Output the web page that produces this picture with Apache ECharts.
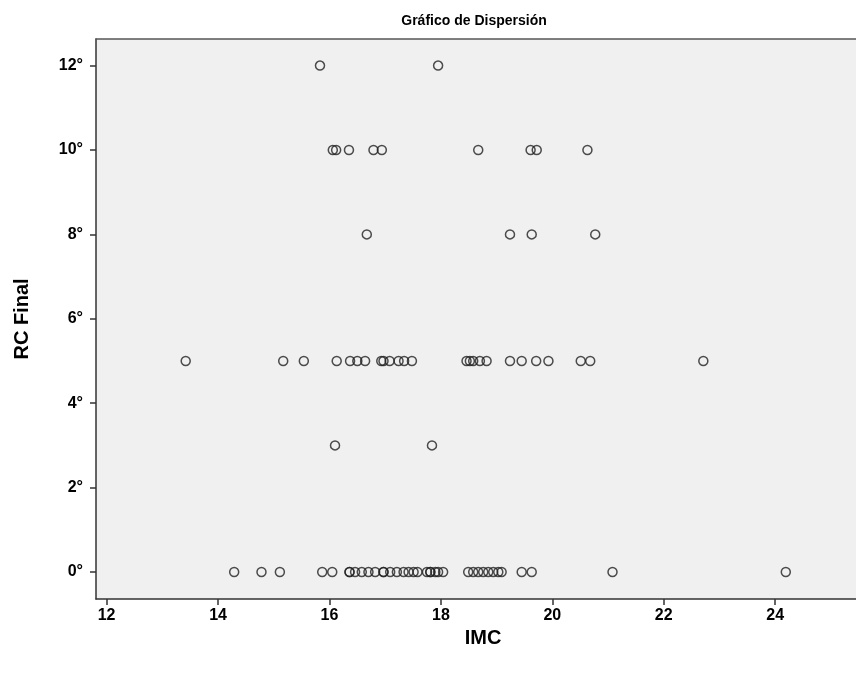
<!DOCTYPE html>
<html>
<head>
<meta charset="utf-8">
<script src="https://cdn.jsdelivr.net/npm/echarts@6/dist/echarts.min.js"></script>
<style>
html, body { margin: 0; padding: 0; background: #fff; }
#main { width: 856px; height: 679px; }
</style>
</head>
<body>
<div id="main"></div>
<script>
// IMC, por fila de RC Final
var imc0 = [14.29, 14.78, 15.11, 15.87, 16.05, 16.36, 16.36, 16.46, 16.58, 16.70, 16.82, 16.97, 16.97,
    17.09, 17.21, 17.33, 17.42, 17.51, 17.58, 17.75, 17.81, 17.81, 17.90, 17.95, 18.04,
    18.49, 18.58, 18.67, 18.76, 18.85, 18.94, 19.03, 19.09, 19.45, 19.63, 21.08, 24.19];
var imc3 = [16.10, 17.84];
var imc5 = [13.42, 15.17, 15.54, 16.13, 16.37, 16.50, 16.64, 16.93, 16.97, 17.08, 17.24, 17.34, 17.48,
    18.46, 18.52, 18.58, 18.70, 18.82, 19.24, 19.45, 19.71, 19.93, 20.51, 20.68, 22.71];
var imc8 = [16.67, 19.24, 19.63, 20.77];
var imc10 = [16.06, 16.12, 16.35, 16.79, 16.94, 18.67, 19.61, 19.72, 20.63];
var imc12 = [15.83, 17.95];

var rcLevels = [0, 3, 5, 8, 10, 12];
var imcRows = [imc0, imc3, imc5, imc8, imc10, imc12];

var xTicks = [12, 14, 16, 18, 20, 22, 24];
var yTicks = [0, 2, 4, 6, 8, 10, 12];

var puntos = [];
for (let i = 0; i < rcLevels.length; i++) {
    for (let j = 0; j < imcRows[i].length; j++) {
        puntos.push([imcRows[i][j], rcLevels[i]]);
    }
}

var myChart = echarts.init(document.getElementById('main'));

var fuente = '"Liberation Sans", Arial, sans-serif';
var lineaEje = { color: '#333', width: 1.5 };

var option = {
    backgroundColor: '#ffffff',
    animation: false,
    title: {
        text: 'Gráfico de Dispersión',
        left: 469,
        top: 9,
        textAlign: 'center',
        textStyle: {
            fontFamily: fuente,
            fontSize: 14,
            fontWeight: 'bold',
            color: '#000'
        }
    },
    grid: {
        left: 96,
        top: 39,
        right: 0,
        bottom: 80,
        show: true,
        backgroundColor: '#f0f0f0',
        borderWidth: 0
    },
    xAxis: [{
        type: 'value',
        min: 11.81,
        max: 25.45,
        name: 'IMC',
        nameLocation: 'middle',
        nameGap: 28,
        nameTextStyle: {
            fontFamily: fuente,
            fontSize: 20,
            fontWeight: 'bold',
            color: '#000',
            padding: [0, 0, 0, 14]
        },
        splitLine: { show: false },
        axisLine: { show: true, onZero: false, lineStyle: lineaEje },
        axisTick: {
            show: true,
            inside: false,
            length: 6,
            customValues: xTicks,
            lineStyle: lineaEje
        },
        axisLabel: {
            customValues: xTicks,
            margin: 9,
            fontFamily: fuente,
            fontSize: 16,
            fontWeight: 'bold',
            color: '#000'
        }
    }, {
        // solo el borde superior del marco
        type: 'value',
        position: 'top',
        min: 11.81,
        max: 25.45,
        splitLine: { show: false },
        axisLine: { show: true, onZero: false, lineStyle: { color: '#555', width: 1.5 } },
        axisTick: { show: false },
        axisLabel: { show: false }
    }],
    yAxis: {
        type: 'value',
        min: -0.64,
        max: 12.63,
        name: 'RC Final',
        nameLocation: 'middle',
        nameGap: 64,
        nameTextStyle: {
            fontFamily: fuente,
            fontSize: 20,
            fontWeight: 'bold',
            color: '#000'
        },
        splitLine: { show: false },
        axisLine: { show: true, onZero: false, lineStyle: lineaEje },
        axisTick: {
            show: true,
            inside: false,
            length: 6,
            customValues: yTicks,
            lineStyle: lineaEje
        },
        axisLabel: {
            customValues: yTicks,
            margin: 13,
            fontFamily: fuente,
            fontSize: 16,
            fontWeight: 'bold',
            color: '#000',
            formatter: function (v) { return v + '°'; }
        }
    },
    series: [{
        type: 'scatter',
        symbol: 'circle',
        symbolSize: 9,
        itemStyle: {
            color: 'rgba(0,0,0,0)',
            borderColor: '#222',
            borderWidth: 1.5
        },
        data: puntos
    }]
};
myChart.setOption(option);
</script>
</body>
</html>
